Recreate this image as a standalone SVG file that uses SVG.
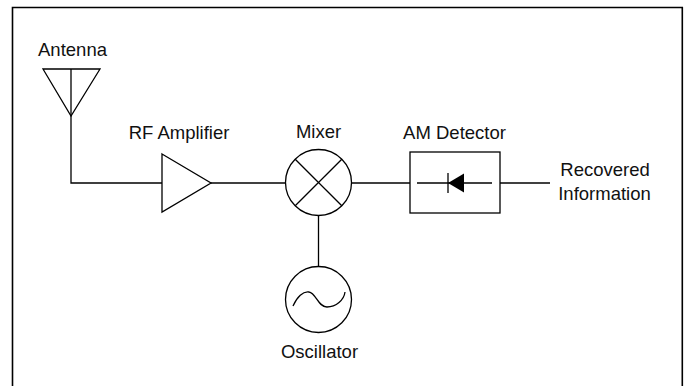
<svg xmlns="http://www.w3.org/2000/svg" width="686" height="386" viewBox="0 0 686 386">
<style>
.s{fill:none;stroke:#000;stroke-width:1.3}
.t{font-family:"Liberation Sans",Arial,sans-serif;font-size:18.5px;fill:#111}
</style>
<rect width="686" height="386" fill="#fff"/>
<path d="M12.5 390 V7.5 H682.3 V390" fill="none" stroke="#000" stroke-width="1.6"/>
<g id="connectors">
<path class="s" d="M71 69 V183 H162"/>
<line class="s" x1="211" y1="183" x2="286" y2="183"/>
<line class="s" x1="351" y1="183" x2="410" y2="183"/>
<line class="s" x1="500" y1="183" x2="550" y2="183"/>
<line class="s" x1="318.5" y1="216" x2="318.5" y2="266"/>
</g>
<g id="antenna">
<path class="s" d="M43 69 H100 L71 116 Z"/>
<text class="t" x="72.5" y="56" text-anchor="middle">Antenna</text>
</g>
<g id="rf-amplifier">
<path class="s" d="M162 154 L211 183 L162 212 Z"/>
<text class="t" x="179" y="139" text-anchor="middle">RF Amplifier</text>
</g>
<g id="mixer">
<circle class="s" cx="318.5" cy="182.5" r="33"/>
<line class="s" x1="295.2" y1="159.2" x2="341.8" y2="205.8"/>
<line class="s" x1="341.8" y1="159.2" x2="295.2" y2="205.8"/>
<text class="t" x="318.5" y="138" text-anchor="middle">Mixer</text>
</g>
<g id="am-detector">
<rect class="s" x="410" y="152" width="90" height="61"/>
<line class="s" x1="417" y1="183" x2="492" y2="183"/>
<line class="s" x1="448" y1="173" x2="448" y2="193"/>
<path d="M448 183 L464 173.5 L464 192.5 Z" fill="#000"/>
<text class="t" x="454.5" y="139" text-anchor="middle">AM Detector</text>
</g>
<g id="output">
<text class="t" x="605" y="176" text-anchor="middle">Recovered</text>
<text class="t" x="604.5" y="200" text-anchor="middle">Information</text>
</g>
<g id="oscillator">
<circle class="s" cx="318.5" cy="299.5" r="33"/>
<path class="s" d="M293 306 C297 297 303 291 309 292 C316 293 318 307 327 307 C336 307 344 300 345 292"/>
<text class="t" x="319.5" y="358" text-anchor="middle">Oscillator</text>
</g>
</svg>
